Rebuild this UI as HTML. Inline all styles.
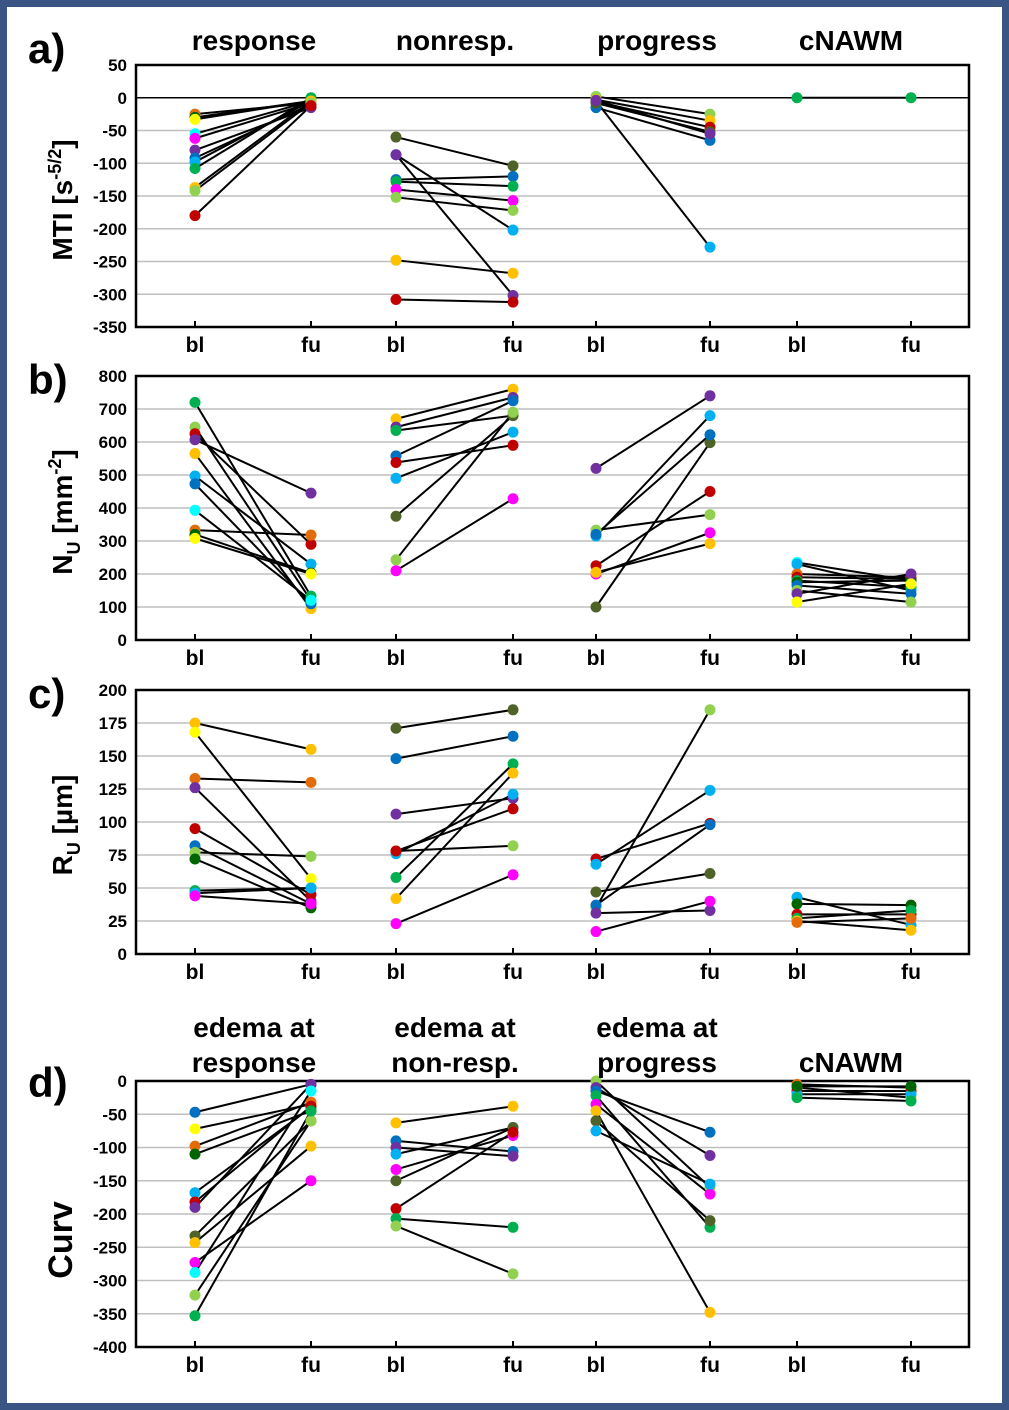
<!DOCTYPE html>
<html><head><meta charset="utf-8"><style>
html,body{margin:0;padding:0;background:#fff}
#wrap{width:1009px;height:1410px;box-sizing:border-box;border:7px solid #3a5583;position:relative;background:#fff}
svg{position:absolute;left:-7px;top:-7px}
text{font-family:"Liberation Sans",Arial,sans-serif;font-weight:bold;fill:#000}
</style></head><body>
<div id="wrap">
<svg id="fig" width="1009" height="1410" viewBox="0 0 1009 1410"></svg>
</div>
<script>
// colors
const C={or:"#E36C09",dg:"#006400",ye:"#FFFF00",cy:"#00FFFF",ma:"#FF00FF",pu:"#7030A0",bu:"#0070C0",lb:"#00B0F0",gr:"#00B050",go:"#FFC000",lg:"#92D050",rd:"#C00000",ol:"#4F6228"};
const groupNames=["response","nonresp.","progress","cNAWM"];
// Panel a: MTI
const aBl=[[-25,-30,-33,-55,-62,-80,-92,-98,-108,-137,-142,-180],[-60,-87,-87,-125,-128,-140,-152,-248,-308],[2,-5,-15,-3,-6,-8,-4],[0]];
const aFu=[[-8,-5,-5,-5,-8,-15,-10,-5,0,-5,-8,-12],[-104,-202,-302,-120,-135,-157,-172,-268,-312],[-25,-228,-65,-35,-45,-52,-55],[0]];
const aCol=[["or","dg","ye","cy","ma","pu","bu","lb","gr","go","lg","rd"],["ol","lb","pu","bu","gr","ma","lg","go","rd"],["lg","lb","bu","go","rd","ol","pu"],["gr"]];
// Panel b: N_U
const bBl=[[720,645,625,607,565,497,473,393,333,320,308],[670,645,635,558,538,490,375,243,210],[520,333,315,225,200,205,100,320],[235,230,200,190,180,175,165,150,140,115]];
const bFu=[[133,120,290,445,95,230,110,120,318,203,200],[760,735,680,725,590,630,680,690,428],[740,380,680,450,325,292,598,622],[180,150,190,185,160,180,140,115,200,170]];
const bCol=[["gr","lg","rd","pu","go","lb","bu","cy","or","dg","ye"],["go","pu","gr","bu","rd","lb","ol","lg","ma"],["pu","lg","lb","rd","ma","go","ol","bu"],["cy","lb","or","rd","gr","dg","bu","lg","pu","ye"]];
// Panel c: R_U
const cBl=[[175,168,133,126,95,82,77,72,48,46,44],[171,148,106,78,76,78,58,42,23],[72,68,47,35,37,31,17],[43,38,30,27,25,24]];
const cFu=[[155,57,130,40,45,38,74,35,50,50,38],[185,165,118,82,121,110,144,137,60],[99,124,61,185,98,33,40],[22,37,30,33,18,27]];
const cCol=[["go","ye","or","pu","rd","bu","lg","dg","gr","lb","ma"],["ol","bu","pu","lg","lb","rd","gr","go","ma"],["rd","lb","ol","lg","bu","pu","ma"],["lb","dg","rd","gr","go","or"]];
// Panel d: Curv
const dBl=[[-47,-72,-98,-110,-168,-182,-190,-233,-243,-273,-288,-322,-353],[-63,-90,-100,-110,-133,-150,-192,-207,-218],[0,-10,-15,-22,-35,-45,-60,-75],[-5,-10,-15,-20,-25,-8]];
const dFu=[[-5,-35,-32,-45,-40,-38,-5,-60,-98,-150,-15,-60,-45],[-38,-106,-113,-70,-82,-70,-77,-220,-290],[-160,-112,-77,-220,-170,-348,-210,-155],[-10,-25,-15,-20,-30,-8]];
const dCol=[["bu","ye","or","dg","lb","rd","pu","ol","go","ma","cy","lg","gr"],["go","bu","pu","lb","ma","ol","rd","gr","lg"],["lg","pu","bu","gr","ma","go","ol","lb"],["or","go","rd","lb","gr","dg"]];

const aTicks=[50,0,-50,-100,-150,-200,-250,-300,-350];
const bTicks=[800,700,600,500,400,300,200,100,0];
const cTicks=[200,175,150,125,100,75,50,25,0];
const dTicks=[0,-50,-100,-150,-200,-250,-300,-350,-400];

const NS="http://www.w3.org/2000/svg";
const svg=document.getElementById('fig');
function mk(tag,attrs,parent,name,inter){const e=document.createElementNS(NS,tag);for(const k in attrs)e.setAttribute(k,attrs[k]);


(parent||svg).appendChild(e);return e;}
function txt(x,y,s,size,anchor,name,parent){const t=mk('text',{x:x,y:y,'font-size':size,'text-anchor':anchor||'middle'},parent,name,false);t.textContent=s;return t;}

const X0=136,X1=969;
const blX=[195,396,596,797],fuX=[311,513,710,911];

function panel(id,top,bot,ticks,bl,fu,col,zeroLine,letter,letterY){
  const g=mk('g',{},svg,'panel-'+id,false);
  const max=ticks[0],min=ticks[ticks.length-1];
  const y=v=>top+(max-v)/(max-min)*(bot-top);
  ticks.forEach(t=>{
    if(t!==max&&t!==min) mk('line',{x1:X0,x2:X1,y1:y(t),y2:y(t),stroke:'#bfbfbf','stroke-width':1.5},g,'gridline',false);
    txt(127,y(t)+6,String(t),17,'end','y-tick-label',g);
  });
  if(zeroLine) mk('line',{x1:X0,x2:X1,y1:y(0),y2:y(0),stroke:'#000','stroke-width':1.5},g,'zero-line',false);
  mk('rect',{x:X0,y:top,width:X1-X0,height:bot-top,fill:'none',stroke:'#000','stroke-width':2.5},g,'plot-frame',false);
  for(let k=0;k<4;k++){
    [blX[k],fuX[k]].forEach((x,j)=>{
      mk('line',{x1:x,x2:x,y1:bot-6,y2:bot,stroke:'#000','stroke-width':2},g,'x-tick',false);
      txt(x,bot+25,j?'fu':'bl',21,'middle','x-tick-label',g);
    });
    for(let i=0;i<bl[k].length;i++){
      mk('line',{x1:blX[k],y1:y(bl[k][i]),x2:fuX[k],y2:y(fu[k][i]),stroke:'#000','stroke-width':2},g,'pair-line',false);
    }
    for(let i=0;i<bl[k].length;i++){
      mk('circle',{cx:blX[k],cy:y(bl[k][i]),r:5.5,fill:C[col[k][i]]},g,'point-bl',true);
      mk('circle',{cx:fuX[k],cy:y(fu[k][i]),r:5.5,fill:C[col[k][i]]},g,'point-fu',true);
    }
  }
  txt(28,letterY,letter,42,'start','panel-letter',g);
  return g;
}
panel('a',65,327,aTicks,aBl,aFu,aCol,true,'a)',63);
panel('b',376,640,bTicks,bBl,bFu,bCol,false,'b)',394);
panel('c',690,954,cTicks,cBl,cFu,cCol,false,'c)',708);
panel('d',1081,1347,dTicks,dBl,dFu,dCol,false,'d)',1097);

// group titles
const titX=[254,455,657,851];
groupNames.forEach((n,i)=>txt(titX[i],50,n,28,'middle','group-title',svg));
const dT1=["edema at","edema at","edema at",""],dT2=["response","non-resp.","progress","cNAWM"];
const dTX=[254,455,657,851];
dT1.forEach((n,i)=>{if(n)txt(dTX[i],1037,n,28,'middle','group-title-d',svg);});
dT2.forEach((n,i)=>txt(dTX[i],1072,n,28,'middle','group-title-d',svg));

// axis titles
function ytitle(cx,cy,html,size,name){
  const t=mk('text',{x:0,y:0,'font-size':size,'text-anchor':'middle',transform:`translate(${cx},${cy}) rotate(-90)`},svg,name,false);
  t.innerHTML=html;
}
ytitle(72,200,'MTI  [s<tspan font-size="18" dy="-11">-5/2</tspan><tspan dy="11">]</tspan>',28,'y-axis-title-a');
ytitle(72,512,'N<tspan font-size="18" dy="8">U</tspan><tspan dy="-8"> [mm</tspan><tspan font-size="18" dy="-11">-2</tspan><tspan dy="11">]</tspan>',28,'y-axis-title-b');
ytitle(72,825,'R<tspan font-size="18" dy="8">U</tspan><tspan dy="-8"> [µm]</tspan>',28,'y-axis-title-c');
ytitle(72,1240,'Curv',34,'y-axis-title-d');
</script>
</body></html>
